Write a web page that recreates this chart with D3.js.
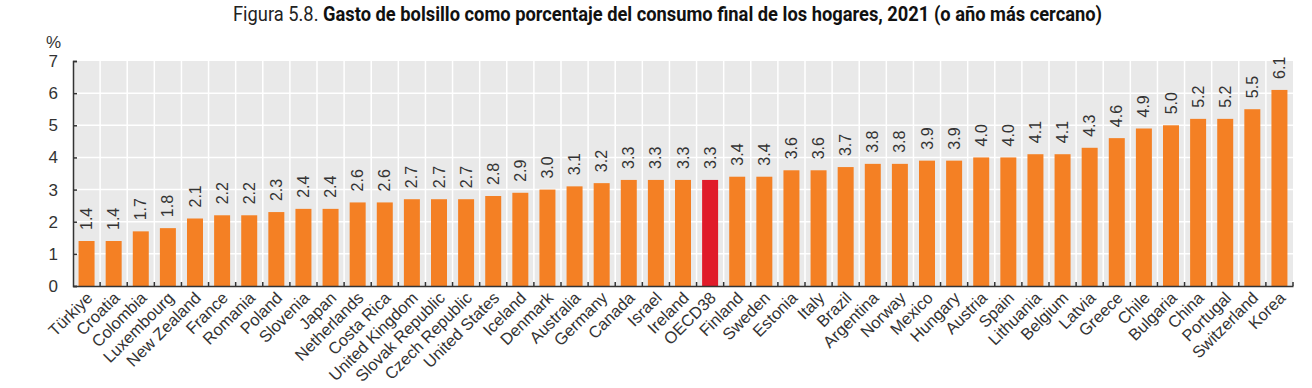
<!DOCTYPE html>
<html>
<head>
<meta charset="utf-8">
<script src="https://cdn.jsdelivr.net/npm/d3@7"></script>
<style>
  body { margin: 0; background: #fff; }
  svg { display: block; }
</style>
</head>
<body>
<svg id="chart" width="1312" height="388"></svg>
<script>
// data
let countries = ["Türkiye", "Croatia", "Colombia", "Luxembourg", "New Zealand", "France", "Romania",
  "Poland", "Slovenia", "Japan", "Netherlands", "Costa Rica", "United Kingdom", "Slovak Republic",
  "Czech Republic", "United States", "Iceland", "Denmark", "Australia", "Germany", "Canada", "Israel",
  "Ireland", "OECD38", "Finland", "Sweden", "Estonia", "Italy", "Brazil", "Argentina", "Norway",
  "Mexico", "Hungary", "Austria", "Spain", "Lithuania", "Belgium", "Latvia", "Greece", "Chile",
  "Bulgaria", "China", "Portugal", "Switzerland", "Korea"];
let values = [1.4, 1.4, 1.7, 1.8, 2.1, 2.2, 2.2, 2.3, 2.4, 2.4, 2.6, 2.6, 2.7, 2.7, 2.7, 2.8, 2.9,
  3.0, 3.1, 3.2, 3.3, 3.3, 3.3, 3.3, 3.4, 3.4, 3.6, 3.6, 3.7, 3.8, 3.8, 3.9, 3.9, 4.0, 4.0, 4.1,
  4.1, 4.3, 4.6, 4.9, 5.0, 5.2, 5.2, 5.5, 6.1];
let yTicks = [0, 1, 2, 3, 4, 5, 6, 7];
let highlight = "OECD38";

let data = countries.map((c, i) => ({ name: c, value: values[i] }));

const svg = d3.select("#chart");
const pLeft = 73, pRight = 1293, pTop = 61, pBottom = 286;

let x = d3.scaleBand().domain(countries).range([pLeft, pRight]).padding(0);
let y = d3.scaleLinear().domain([0, 7]).range([pBottom, pTop]);

// title
let title = svg.append("text")
  .attr("x", 0).attr("y", 21)
  .style("font-family", "Roboto")
  .style("font-size", "20px")
  .style("fill", "#111");
title.append("tspan").text("Figura 5.8. ").style("font-weight", "normal").style("fill", "#222");
title.append("tspan").text("Gasto de bolsillo como porcentaje del consumo final de los hogares, 2021 (o año más cercano)")
  .style("font-weight", "bold");
let tw = title.node().getComputedTextLength();
let sx = 870 / tw;
title.attr("transform", `translate(233,0) scale(${sx},1)`);

// plot background
svg.append("rect")
  .attr("x", pLeft).attr("y", pTop)
  .attr("width", pRight - pLeft).attr("height", pBottom - pTop)
  .attr("fill", "#e9e9e9");

// grid
svg.append("g").selectAll("line")
  .data(yTicks.filter(d => d > 0 && d < 7))
  .join("line")
  .attr("x1", pLeft).attr("x2", pRight)
  .attr("y1", d => y(d)).attr("y2", d => y(d))
  .attr("stroke", "#fff").attr("stroke-width", 1.5);

svg.append("g").selectAll("line")
  .data(countries.slice(1))
  .join("line")
  .attr("x1", d => x(d)).attr("x2", d => x(d))
  .attr("y1", pTop).attr("y2", pBottom)
  .attr("stroke", "#fff").attr("stroke-width", 1.5);

// bars
let bw = x.bandwidth() * 0.59;
svg.append("g").selectAll("rect")
  .data(data)
  .join("rect")
  .attr("x", d => x(d.name) + (x.bandwidth() - bw) / 2)
  .attr("width", bw)
  .attr("y", d => y(d.value))
  .attr("height", d => y(0) - y(d.value))
  .attr("fill", d => d.name == highlight ? "#e01b2a" : "#f48024");

// value labels
svg.append("g").selectAll("text")
  .data(data)
  .join("text")
  .attr("transform", d => `translate(${x(d.name) + x.bandwidth() / 2 + 5.5},${y(d.value) - 11}) rotate(-90)`)
  .attr("text-anchor", "start")
  .style("font-family", "Liberation Sans, Arial, sans-serif")
  .style("font-size", "16px")
  .style("fill", "#333")
  .text(d => d.value.toFixed(1));

// y axis
let yAxis = d3.axisLeft(y).tickValues(yTicks).tickFormat(d3.format("d"))
  .tickSizeInner(-4).tickSizeOuter(-4).tickPadding(15);
let yg = svg.append("g").attr("transform", `translate(${pLeft},0)`).call(yAxis);
yg.select(".domain").attr("stroke", "#333").attr("stroke-width", 1.5);
yg.selectAll(".tick line").attr("stroke", "#333").attr("stroke-width", 1.5);
yg.selectAll(".tick text")
  .style("font-family", "Liberation Sans, Arial, sans-serif")
  .style("font-size", "17px")
  .style("fill", "#333");

svg.append("text")
  .attr("x", 46).attr("y", 48)
  .style("font-family", "Liberation Sans, Arial, sans-serif")
  .style("font-size", "17px")
  .style("fill", "#333")
  .text("%");

// x axis
let xAxis = d3.axisBottom(x).tickSize(0).tickPadding(0);
let xg = svg.append("g").attr("transform", `translate(0,${pBottom})`).call(xAxis);
xg.select(".domain").attr("stroke", "#333").attr("stroke-width", 1.5);
xg.selectAll(".tick text")
  .attr("text-anchor", "end")
  .attr("y", 0).attr("dy", 0)
  .attr("transform", "translate(7,13) rotate(-45)")
  .style("font-family", "Liberation Sans, Arial, sans-serif")
  .style("font-size", "16.5px")
  .style("fill", "#333");

// boundary ticks on x axis
svg.append("g").selectAll("line")
  .data(countries.slice(1).concat(["__end"]))
  .join("line")
  .attr("x1", d => d == "__end" ? pRight : x(d))
  .attr("x2", d => d == "__end" ? pRight : x(d))
  .attr("y1", pBottom).attr("y2", pBottom - 4)
  .attr("stroke", "#333").attr("stroke-width", 1.5);
</script>
</body>
</html>
